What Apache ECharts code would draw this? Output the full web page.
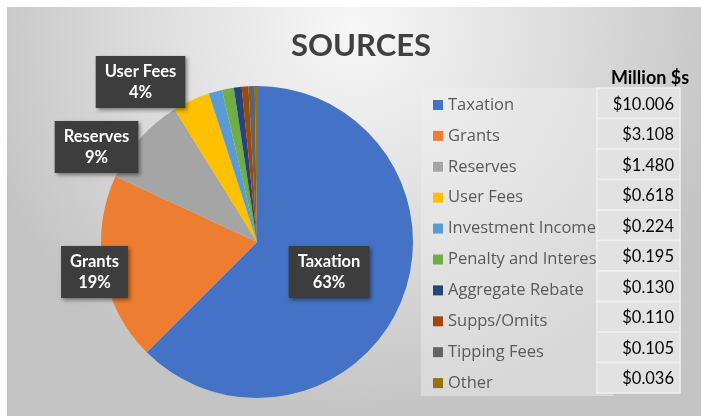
<!DOCTYPE html>
<html><head><meta charset="utf-8">
<script src="https://cdn.jsdelivr.net/npm/echarts@6/dist/echarts.min.js"></script>
<style>html,body{margin:0;padding:0;background:#fff}#c{width:701px;height:416px}</style>
</head><body><div id="c"></div>
<script>
const categories = ['Taxation','Grants','Reserves','User Fees','Investment Income','Penalty and Interest','Aggregate Rebate','Supps/Omits','Tipping Fees','Other'];
const values = [10.006, 3.108, 1.480, 0.618, 0.224, 0.195, 0.130, 0.110, 0.105, 0.036];
const colors = ['#4472C4','#ED7D31','#A5A5A5','#FFC000','#5B9BD5','#70AD47','#264478','#9E480E','#636363','#997300'];
const tableHeader = 'Million $s';
const titleText = 'SOURCES';

const labelPos = {0:[329,272],1:[94.5,272],2:[96.5,147],3:[140.5,82]};
const rowTop = 88, rowH = 30.5;

const graphics = [
  {type:'rect', z:-10, silent:true, shape:{x:7,y:7,width:694,height:409},
   style:{fill:{type:'radial',x:0.5,y:0.05,r:0.95,colorStops:[{offset:0,color:'#f7f7f7'},{offset:0.55,color:'#dcdcdc'},{offset:1,color:'#c4c4c4'}]}}},
  {type:'rect', z:-5, silent:true, shape:{x:421,y:88,width:192,height:308}, style:{fill:'rgba(240,240,240,0.45)'}},
  {type:'text', z:20, style:{text:tableHeader, x:650, y:78, align:'center', verticalAlign:'middle', font:'bold 18px Lato', fill:'#000'}}
];
values.forEach((v,i)=>{
  graphics.push({type:'rect', z:15, silent:true, shape:{x:597,y:rowTop+rowH*i,width:83,height:rowH},
    style:{fill:'#e2e2e2', stroke:'#efefef', lineWidth:1.5}});
  graphics.push({type:'text', z:20, style:{text:'$'+v.toFixed(3), x:674, y:rowTop+rowH*i+rowH/2+1, align:'right', verticalAlign:'middle', font:'16.5px Lato', fill:'#000'}});
});

const chart = echarts.init(document.getElementById('c'));
chart.setOption({
  animation:false,
  color:colors,
  title:{text:titleText, left:356, top:25, textAlign:'center', textStyle:{fontFamily:'Lato', fontWeight:'bold', fontSize:31, color:'#404040'}},
  legend:{orient:'vertical', left:428, top:90, itemWidth:10, itemHeight:10, itemGap:10.9, icon:'rect', selectedMode:false,
    data:categories,
    textStyle:{fontFamily:'Open Sans', fontSize:16.5, color:'#595959', lineHeight:20}},
  graphic:graphics,
  series:[{
    type:'pie', center:[257,242], radius:156, startAngle:90, clockwise:true,
    percentPrecision:0, avoidLabelOverlap:false,
    itemStyle:{borderWidth:0},
    labelLine:{show:false},
    label:{show:true, position:'outside', formatter:'{b}\n{d}%', color:'#fff', fontFamily:'Lato', fontWeight:'bold', fontSize:16.5, lineHeight:21,
      backgroundColor:'#3d3d3d', padding:[5,9], shadowBlur:4, shadowColor:'rgba(0,0,0,0.45)', shadowOffsetX:2, shadowOffsetY:2},
    labelLayout:function(p){
      const pos = labelPos[p.dataIndex];
      if(!pos) return {};
      return {x:pos[0], y:pos[1], align:'center', verticalAlign:'middle'};
    },
    data:categories.map((c,i)=>({name:c, value:values[i], label:{show:i<4}}))
  }]
});
</script></body></html>
